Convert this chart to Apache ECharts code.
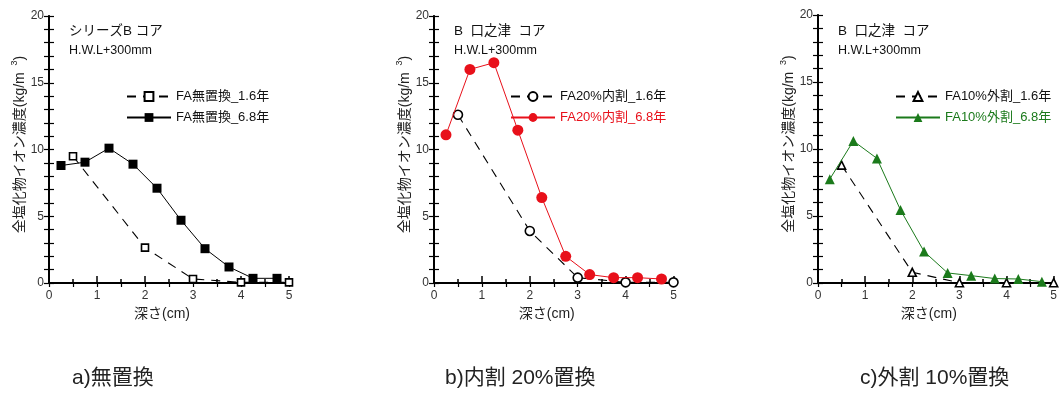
<!DOCTYPE html>
<html>
<head>
<meta charset="utf-8">
<script src="https://cdn.jsdelivr.net/npm/echarts@6/dist/echarts.min.js"></script>
<style>
  html, body { margin: 0; padding: 0; background: #fff; }
  #chart { width: 1060px; height: 401px; }
</style>
</head>
<body>
<div id="chart"></div>
<script>
// Depth of each sampled slice (cm)
const depth16 = [0.5, 2, 3, 4, 5];
const depth68 = [0.25, 0.75, 1.25, 1.75, 2.25, 2.75, 3.25, 3.75, 4.25, 4.75];

// Total chloride ion content (kg/m3)
const noRepl16 = [9.5, 2.65, 0.3, 0.05, 0.05];
const noRepl68 = [8.8, 9.05, 10.1, 8.9, 7.1, 4.7, 2.57, 1.2, 0.35, 0.35];
const inner16 = [12.6, 3.9, 0.4, 0.05, 0.05];
const inner68 = [11.1, 16.0, 16.5, 11.45, 6.4, 2.0, 0.63, 0.4, 0.4, 0.3];
const outer16 = [8.8, 0.8, 0.02, 0.02, 0.02];
const outer68 = [7.75, 10.6, 9.3, 5.45, 2.35, 0.75, 0.55, 0.33, 0.3, 0.1];

// Series names
const names = [
  ['FA無置換_1.6年', 'FA無置換_6.8年'],
  ['FA20%内割_1.6年', 'FA20%内割_6.8年'],
  ['FA10%外割_1.6年', 'FA10%外割_6.8年']
];
const panelTitles = ['シリーズB コア', 'B  口之津  コア', 'B  口之津  コア'];
const panelSub = 'H.W.L+300mm';
const captions = ['a)無置換', 'b)内割 20%置換', 'c)外割 10%置換'];
const xName = '深さ(cm)';
const yName = '全塩化物イオン濃度(kg/m {sup|3})';

const FONT = "'Liberation Sans', 'Noto Sans CJK JP', sans-serif";
const RED = '#e8101a';
const GREEN = '#1b7a1b';

const grids = [
  { left: 49, top: 16, width: 240, height: 267 },
  { left: 434, top: 16, width: 239.5, height: 267 },
  { left: 818, top: 15, width: 240, height: 268 }
];

const xAxes = [], yAxes = [];
grids.forEach((g, i) => {
  xAxes.push({
    gridIndex: i, type: 'value', min: 0, max: 5, interval: 1, position: 'bottom',
    name: xName, nameLocation: 'middle', nameGap: 24,
    nameTextStyle: { fontSize: 14, color: '#222', fontFamily: FONT, padding: [0, 14, 0, 0] },
    axisLine: { lineStyle: { color: '#000', width: 2 } },
    axisTick: { inside: true, length: 7, lineStyle: { color: '#000', width: 1.5 } },
    minorTick: { show: true, splitNumber: 2, length: 4, lineStyle: { color: '#000', width: 1.5 } },
    axisLabel: { fontSize: 12, color: '#333', margin: 7, fontFamily: FONT },
    splitLine: { show: false }
  });
  xAxes.push({
    gridIndex: i, type: 'value', min: 0, max: 5, interval: 0.5, position: 'top',
    axisLine: { lineStyle: { color: '#000', width: 1.5 } },
    axisTick: { inside: true, length: 4, lineStyle: { color: '#000', width: 1.2 } },
    axisLabel: { show: false },
    splitLine: { show: false }
  });
  yAxes.push({
    gridIndex: i, type: 'value', min: 0, max: 20, interval: 5, position: 'left',
    name: yName, nameLocation: 'middle', nameGap: 18,
    nameTextStyle: {
      fontSize: 14, color: '#222', fontFamily: FONT, padding: [0, 0, 0, 10],
      rich: { sup: { fontSize: 9, color: '#222', fontFamily: FONT, padding: [0, 0, 11, 3] } }
    },
    axisLine: { lineStyle: { color: '#000', width: 2 } },
    axisTick: { inside: true, length: 5, lineStyle: { color: '#000', width: 1.2 } },
    minorTick: { show: true, splitNumber: 5, length: 5, lineStyle: { color: '#000', width: 1.2 } },
    axisLabel: { fontSize: 12, color: '#333', margin: 5, fontFamily: FONT },
    splitLine: { show: false }
  });
  yAxes.push({
    gridIndex: i, type: 'value', min: 0, max: 20, interval: 5, position: 'right',
    axisLine: { lineStyle: { color: '#000', width: 1.5 } },
    axisTick: { inside: true, length: 5, lineStyle: { color: '#000', width: 1.2 } },
    minorTick: { show: true, splitNumber: 5, length: 5, lineStyle: { color: '#000', width: 1.2 } },
    axisLabel: { show: false },
    splitLine: { show: false }
  });
});

function pairs(xs, ys) { return xs.map((x, k) => [x, ys[k]]); }

const dashed = [9, 7];
const panels = [
  { early: noRepl16, late: noRepl68, color: '#000', earlySym: 'rect', lateSym: 'rect', eSize: 7, lSize: 9 },
  { early: inner16, late: inner68, color: RED, earlySym: 'circle', lateSym: 'circle', eSize: 9, lSize: 11 },
  { early: outer16, late: outer68, color: GREEN, earlySym: 'triangle', lateSym: 'triangle', eSize: 8, lSize: 10 }
];

const series = [];
panels.forEach((p, i) => {
  series.push({
    name: names[i][0], type: 'line', xAxisIndex: i * 2, yAxisIndex: i * 2,
    data: pairs(depth16, p.early),
    symbol: p.earlySym, symbolSize: p.eSize,
    lineStyle: { color: '#000', width: 1.1, type: dashed },
    itemStyle: { color: '#fff', borderColor: '#000', borderWidth: 1.6 },
    emphasis: { disabled: true }, animation: false, z: 2
  });
  series.push({
    name: names[i][1], type: 'line', xAxisIndex: i * 2, yAxisIndex: i * 2,
    data: pairs(depth68, p.late),
    symbol: p.lateSym, symbolSize: p.lSize,
    lineStyle: { color: p.color, width: 1 },
    itemStyle: { color: p.color, borderWidth: 0 },
    emphasis: { disabled: true }, animation: false, z: 3
  });
});

const legendLeft = [126, 510, 895];
const legends = panels.map((p, i) => ({
  left: legendLeft[i], top: 90, orient: 'vertical', itemGap: 8, padding: 0,
  itemWidth: 44, itemHeight: 11,
  selectedMode: false,
  textStyle: { fontSize: 13, fontFamily: FONT, color: '#111' },
  data: [
    { name: names[i][0], textStyle: { color: '#111' } },
    { name: names[i][1], textStyle: { color: i === 0 ? '#111' : p.color } }
  ]
}));

const graphic = [];
grids.forEach((g, i) => {
  graphic.push({
    type: 'text', left: g.left + 20, top: 25,
    style: { text: panelTitles[i], font: '13.5px ' + FONT, fill: '#111' }
  });
  graphic.push({
    type: 'text', left: g.left + 20, top: 44,
    style: { text: panelSub, font: '12.5px ' + FONT, fill: '#111' }
  });
});
[72, 445, 860].forEach((x, i) => {
  graphic.push({
    type: 'text', left: x, top: 368,
    style: { text: captions[i], font: '21px ' + FONT, fill: '#222' }
  });
});

const chart = echarts.init(document.getElementById('chart'), null, { renderer: 'canvas' });
chart.setOption({
  animation: false,
  backgroundColor: '#fff',
  grid: grids.map(g => Object.assign({ containLabel: false }, g)),
  xAxis: xAxes,
  yAxis: yAxes,
  legend: legends,
  series: series,
  graphic: graphic
});
</script>
</body>
</html>
